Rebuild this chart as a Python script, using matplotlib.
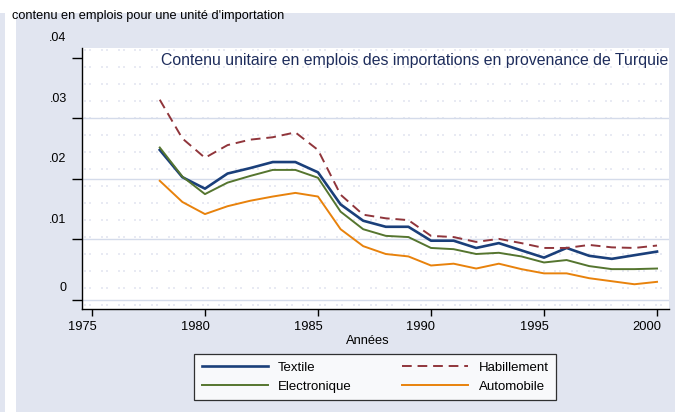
import numpy as np
import matplotlib
matplotlib.use("Agg")
import matplotlib.pyplot as plt
from matplotlib.transforms import ScaledTranslation

plt.rcParams['font.family'] = ['Liberation Sans', 'DejaVu Sans']

years = list(range(1978, 2001))
textile = [0.0248, 0.0203, 0.0184, 0.0209, 0.0218, 0.0228, 0.0228, 0.0211, 0.0158,
           0.0131, 0.0121, 0.0121, 0.0098, 0.0098, 0.0086, 0.0094, 0.0082, 0.0070,
           0.0086, 0.0073, 0.0068, 0.0074, 0.0080]
habillement = [0.0331, 0.0267, 0.0235, 0.0256, 0.0265, 0.0269, 0.0277, 0.0248, 0.0174,
               0.0141, 0.0135, 0.0132, 0.0106, 0.0104, 0.0096, 0.0101, 0.0094, 0.0086,
               0.0086, 0.0091, 0.0087, 0.0086, 0.0090]
electronique = [0.0252, 0.0204, 0.0175, 0.0194, 0.0205, 0.0215, 0.0215, 0.0202, 0.0146,
                0.0117, 0.0106, 0.0104, 0.0086, 0.0084, 0.0076, 0.0078, 0.0072, 0.0062,
                0.0066, 0.0056, 0.0051, 0.0051, 0.0052]
automobile = [0.0197, 0.0162, 0.0142, 0.0155, 0.0164, 0.0171, 0.0177, 0.0171, 0.0117,
              0.0089, 0.0076, 0.0072, 0.0057, 0.0060, 0.0052, 0.0060, 0.0051, 0.0044,
              0.0044, 0.0036, 0.0031, 0.0026, 0.0030]

yticks = [0, 0.01, 0.02, 0.03, 0.04]
ytick_labels = ["0", ".01", ".02", ".03", ".04"]
xticks = [1975, 1980, 1985, 1990, 1995, 2000]
xtick_labels = ["1975", "1980", "1985", "1990", "1995", "2000"]

bg = '#e1e5f0'
W, H = 675, 412
fig = plt.figure(figsize=(W / 100, H / 100), dpi=100)
fig.patch.set_facecolor(bg)

# white strips (top band and left strip)
fig.patches.append(plt.Rectangle((0, 1 - 13 / H), 1, 13 / H, transform=fig.transFigure,
                                 facecolor='white', edgecolor='none', zorder=0))
fig.patches.append(plt.Rectangle((5 / W, 0), 11 / W, 1, transform=fig.transFigure,
                                 facecolor='white', edgecolor='none', zorder=0))

left, right, top, bottom = 82, 669, 48, 309
ax = fig.add_axes([left / W, 1 - bottom / H, (right - left) / W, (bottom - top) / H])
ax.set_facecolor('white')

# faint background texture
px = np.arange(3, right - left, 16.8) / (right - left)
py = (bottom - (np.arange(50, bottom, 17.0))) / (bottom - top)
gx, gy = np.meshgrid(px, py)
ax.scatter(gx.ravel(), gy.ravel(), s=4, marker='s', color='#e8eaf3', linewidths=0,
           transform=ax.transAxes, zorder=0)
ax.scatter(gx.ravel() + 5 / (right - left), gy.ravel(), s=4, marker='s', color='#e8eaf3',
           linewidths=0, transform=ax.transAxes, zorder=0)

for yv in yticks[:-1]:
    ax.axhline(yv, color='#d4dbea', lw=1.0, zorder=1)

l_tex, = ax.plot(years, textile, color='#1a3f7a', lw=1.9, label='Textile', zorder=3)
l_hab, = ax.plot(years, habillement, color='#90353b', lw=1.4, ls=(0, (5, 3)), label='Habillement', zorder=3)
l_ele, = ax.plot(years, electronique, color='#55752f', lw=1.4, label='Electronique', zorder=3)
l_aut, = ax.plot(years, automobile, color='#e8820c', lw=1.4, label='Automobile', zorder=3)

ax.set_xlim(1974.56, 2000.53)
ax.set_ylim(-0.00149, 0.04165)
ax.set_xticks(xticks)
ax.set_xticklabels(xtick_labels, fontsize=9.3)
ax.set_yticks(yticks)
ax.set_yticklabels(ytick_labels, fontsize=9)
ax.tick_params(axis='y', direction='out', length=7, width=1, pad=4)
ax.tick_params(axis='x', direction='out', length=5, width=1, pad=4)
for s in ['top', 'right']:
    ax.spines[s].set_visible(False)
for s in ['left', 'bottom']:
    ax.spines[s].set_linewidth(1.0)

ax.text((668 - left) / (right - left), (bottom - 60) / (bottom - top),
        'Contenu unitaire en emplois des importations en provenance de Turquie',
        transform=ax.transAxes, ha='right', va='center', fontsize=11.4, color='#1e2d5c')

fig.text(12 / W, 1 - 16 / H, "contenu en emplois pour une unité d'importation",
         ha='left', va='center', fontsize=9.2)
fig.text(368 / W, 1 - 341 / H, 'Années', ha='center', va='center', fontsize=9.3)

leg = fig.legend([l_tex, l_ele, l_hab, l_aut],
                 ['Textile', 'Electronique', 'Habillement', 'Automobile'],
                 loc='center', bbox_to_anchor=(375 / W, 1 - 377 / H), ncol=2,
                 fontsize=9.5, frameon=True, fancybox=False, edgecolor='black',
                 handlelength=5.0, handletextpad=0.8, columnspacing=3.8,
                 labelspacing=0.5, borderpad=0.55)
leg.get_frame().set_linewidth(0.9)
leg.get_frame().set_facecolor('white')

fig.canvas.draw()
for lbl in ax.yaxis.get_majorticklabels():
    dy = 13 if lbl.get_text() == "0" else 21
    lbl.set_transform(lbl.get_transform() + ScaledTranslation(0, dy / 100, fig.dpi_scale_trans))
for lbl in ax.xaxis.get_majorticklabels():
    lbl.set_transform(lbl.get_transform() + ScaledTranslation(-10 / 100, 0, fig.dpi_scale_trans))

fig.savefig('out.png', dpi=100, facecolor=fig.get_facecolor())
